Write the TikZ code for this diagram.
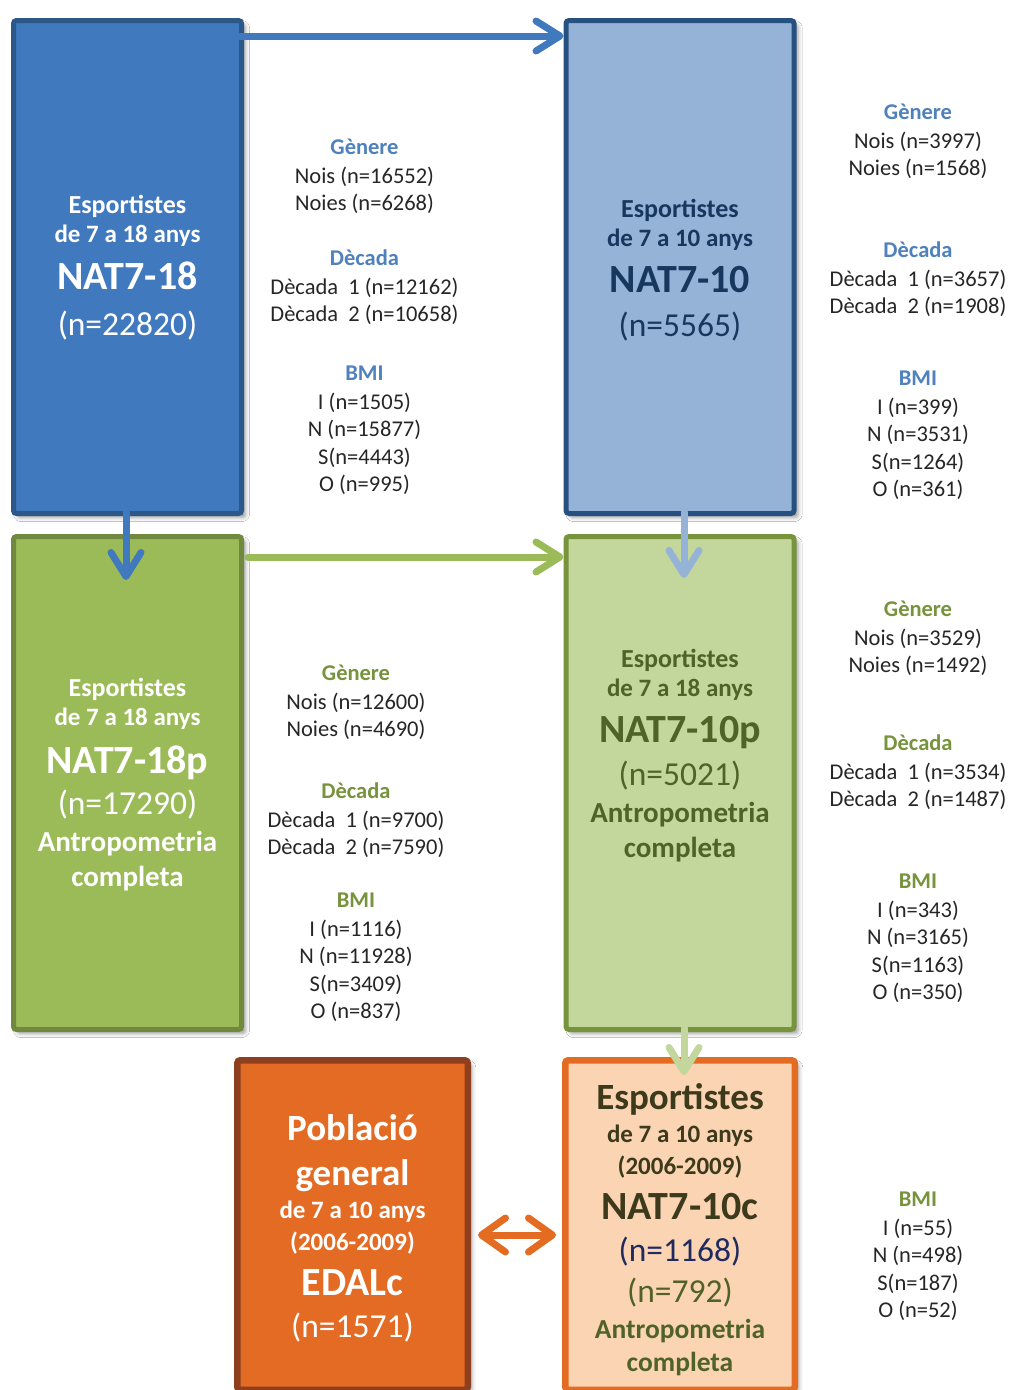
\documentclass[tikz,border=0pt]{standalone}
\usepackage{fontspec}
\setmainfont{Carlito}
\usetikzlibrary{arrows.meta,calc,shadows.blur}

\definecolor{bluefill}{HTML}{4179BE}
\definecolor{blueline}{HTML}{2C5889}
\definecolor{lbluefill}{HTML}{95B3D7}
\definecolor{lblueline}{HTML}{25507F}
\definecolor{lbluetext}{HTML}{17375E}
\definecolor{greenfill}{HTML}{9BBB59}
\definecolor{greenline}{HTML}{71893F}
\definecolor{lgreenfill}{HTML}{C3D69B}
\definecolor{lgreenline}{HTML}{77933C}
\definecolor{greentext}{HTML}{4F6228}
\definecolor{orangefill}{HTML}{E36B23}
\definecolor{orangeline}{HTML}{8E3F1F}
\definecolor{peachfill}{HTML}{FBD4B4}
\definecolor{peachline}{HTML}{E46C22}
\definecolor{olivetext}{HTML}{3D3A1C}
\definecolor{navytext}{HTML}{1F2B5E}
\definecolor{headblue}{HTML}{4F81BD}
\definecolor{headgreen}{HTML}{77933C}
\definecolor{bodytext}{HTML}{262626}

\newcommand\fsz[1]{\fontsize{#1}{#1}\selectfont}

\tikzset{
  card/.style={draw, rounded corners=3pt, inner sep=0pt,
    blur shadow={shadow xshift=4pt, shadow yshift=-4pt,
      shadow blur radius=4pt, shadow opacity=40}},
  tall/.style={card, line width=5pt, minimum width=228pt, minimum height=493pt},
  cline/.style={anchor=base, inner sep=0pt},
  hd/.style={anchor=base, inner sep=0pt, font=\fsz{22.5}\bfseries},
  bd/.style={anchor=base, inner sep=0pt, font=\fsz{22.5}, text=bodytext},
  flow/.style={line width=7pt, line cap=round,
    arrows={-Straight Barb[length=24pt,width=30pt,round]}},
  twoway/.style={line width=7pt, line cap=round,
    arrows={Straight Barb[length=24pt,width=34pt,round]-Straight Barb[length=24pt,width=34pt,round]}}
}

% heading plus lines of counts, 27.5pt apart
\newcommand\statgroup[6]{%
  \node[hd, text=#4] (#1) at (#2,#3) {#5};
  \foreach \t [count=\k] in {#6}
    \node[bd] (#1-\k) at (#2,#3+1.5+27.5*\k) {\t};
}

\begin{document}
\begin{tikzpicture}[x=1pt, y=-1pt]
\useasboundingbox (0,0) rectangle (1009,1390);
\clip (0,0) rectangle (1009,1390);
\fill[white] (0,0) rectangle (1009,1390);

% ---- cohort boxes
\node[tall, draw=blueline, fill=bluefill] (b1) at (127.5,267) {};
\node[tall, draw=lblueline, fill=lbluefill] (b2) at (680,267) {};
\node[tall, draw=greenline, fill=greenfill] (b3) at (127.5,783) {};
\node[tall, draw=lgreenline, fill=lgreenfill] (b4) at (680,783) {};
\node[card, line width=6.5pt, minimum width=230.5pt, minimum height=329.5pt,
      draw=orangeline, fill=orangefill] (b5) at (352.5,1225) {};
\node[card, line width=6.5pt, minimum width=229.5pt, minimum height=329.5pt,
      draw=peachline, fill=peachfill] (b6) at (680,1225) {};

% ---- box captions
\begin{scope}[every node/.style={cline, text=white}]
\node[font=\fsz{26}\bfseries] (t1a) at (127.5,213) {Esportistes};
\node[font=\fsz{25}\bfseries] (t1b) at (127.5,242) {de 7 a 18 anys};
\node[font=\fsz{40}\bfseries] (t1c) at (127.5,289) {NAT7-18};
\node[font=\fsz{33.5}] (t1d) at (127.5,335) {(n=22820)};

\node[font=\fsz{26}\bfseries] (t3a) at (127.5,696) {Esportistes};
\node[font=\fsz{25}\bfseries] (t3b) at (127.5,725) {de 7 a 18 anys};
\node[font=\fsz{40}\bfseries] (t3c) at (127.5,773) {NAT7-18p};
\node[font=\fsz{33.5}] (t3d) at (127.5,814) {(n=17290)};
\node[font=\fsz{29}\bfseries] (t3e) at (127.5,851) {Antropometria};
\node[font=\fsz{29}\bfseries] (t3f) at (127.5,886) {completa};

\node[font=\fsz{37}\bfseries] (t5a) at (352.5,1140) {Població};
\node[font=\fsz{37}\bfseries] (t5b) at (352.5,1185) {general};
\node[font=\fsz{25}\bfseries] (t5c) at (352.5,1218) {de 7 a 10 anys};
\node[font=\fsz{25}\bfseries] (t5d) at (352.5,1250) {(2006-2009)};
\node[font=\fsz{40}\bfseries] (t5e) at (352.5,1295) {EDALc};
\node[font=\fsz{33.5}] (t5f) at (352.5,1337) {(n=1571)};
\end{scope}

\begin{scope}[every node/.style={cline, text=lbluetext}]
\node[font=\fsz{26}\bfseries] (t2a) at (680,217) {Esportistes};
\node[font=\fsz{25}\bfseries] (t2b) at (680,246) {de 7 a 10 anys};
\node[font=\fsz{40}\bfseries] (t2c) at (680,292) {NAT7-10};
\node[font=\fsz{33.5}] (t2d) at (680,336) {(n=5565)};
\end{scope}

\begin{scope}[every node/.style={cline, text=greentext}]
\node[font=\fsz{26}\bfseries] (t4a) at (680,667) {Esportistes};
\node[font=\fsz{25}\bfseries] (t4b) at (680,696) {de 7 a 18 anys};
\node[font=\fsz{40}\bfseries] (t4c) at (680,742) {NAT7-10p};
\node[font=\fsz{33.5}] (t4d) at (680,785) {(n=5021)};
\node[font=\fsz{29}\bfseries] (t4e) at (680,822) {Antropometria};
\node[font=\fsz{29}\bfseries] (t4f) at (680,857) {completa};
\end{scope}

\begin{scope}[every node/.style={cline, text=olivetext}]
\node[font=\fsz{37}\bfseries] (t6a) at (680,1109) {Esportistes};
\node[font=\fsz{25}\bfseries] (t6b) at (680,1142) {de 7 a 10 anys};
\node[font=\fsz{25}\bfseries] (t6c) at (680,1174) {(2006-2009)};
\node[font=\fsz{40}\bfseries] (t6d) at (680,1219) {NAT7-10c};
\node[font=\fsz{33.5}, text=navytext] (t6e) at (680,1261) {(n=1168)};
\node[font=\fsz{33.5}, text=greentext] (t6f) at (680,1302) {(n=792)};
\node[font=\fsz{27.5}\bfseries, text=greentext] (t6g) at (680,1338) {Antropometria};
\node[font=\fsz{27.5}\bfseries, text=greentext] (t6h) at (680,1371) {completa};
\end{scope}

% ---- breakdowns beside the boxes
\statgroup{gA1}{364.5}{154}{headblue}{Gènere}{Nois (n=16552), Noies (n=6268)}
\statgroup{gA2}{364.5}{265}{headblue}{Dècada}{Dècada\ \ 1 (n=12162), Dècada\ \ 2 (n=10658)}
\statgroup{gA3}{364.5}{380}{headblue}{BMI}{I (n=1505), N (n=15877), S(n=4443), O (n=995)}

\statgroup{gB1}{918}{119}{headblue}{Gènere}{Nois (n=3997), Noies (n=1568)}
\statgroup{gB2}{918}{257}{headblue}{Dècada}{Dècada\ \ 1 (n=3657), Dècada\ \ 2 (n=1908)}
\statgroup{gB3}{918}{385}{headblue}{BMI}{I (n=399), N (n=3531), S(n=1264), O (n=361)}

\statgroup{gC1}{356}{680}{headgreen}{Gènere}{Nois (n=12600), Noies (n=4690)}
\statgroup{gC2}{356}{798}{headgreen}{Dècada}{Dècada\ \ 1 (n=9700), Dècada\ \ 2 (n=7590)}
\statgroup{gC3}{356}{907}{headgreen}{BMI}{I (n=1116), N (n=11928), S(n=3409), O (n=837)}

\statgroup{gD1}{918}{616}{headgreen}{Gènere}{Nois (n=3529), Noies (n=1492)}
\statgroup{gD2}{918}{750}{headgreen}{Dècada}{Dècada\ \ 1 (n=3534), Dècada\ \ 2 (n=1487)}
\statgroup{gD3}{918}{888}{headgreen}{BMI}{I (n=343), N (n=3165), S(n=1163), O (n=350)}

\statgroup{gE1}{918}{1206}{headgreen}{BMI}{I (n=55), N (n=498), S(n=187), O (n=52)}

% ---- connectors
\coordinate (a1s) at ($(b1.north east)+(-4,18)$);
\draw[flow, bluefill] (a1s) -- (a1s -| b2.west);

\coordinate (a2e) at ($(b1.south)+(-1.5,64)$);
\draw[flow, bluefill] ($(b1.south)+(-1.5,-4)$) -- (a2e);

\coordinate (a3s) at ($(b3.north east)+(4,23)$);
\draw[flow, greenfill] (a3s) -- (a3s -| b4.west);

\coordinate (a4e) at ($(b2.south)+(4,62)$);
\draw[flow, lbluefill] ($(b2.south)+(4,-4)$) -- (a4e);

\coordinate (a5e) at ($(b4.south)+(4,43)$);
\draw[flow, lgreenfill] ($(b4.south)+(4,-4)$) -- (a5e);

\coordinate (a6s) at ($(b5.east)+(7,10)$);
\coordinate (a6e) at ($(b6.west)+(-6,10)$);
\draw[twoway, peachline] (a6s) -- (a6e);
\end{tikzpicture}
\end{document}
